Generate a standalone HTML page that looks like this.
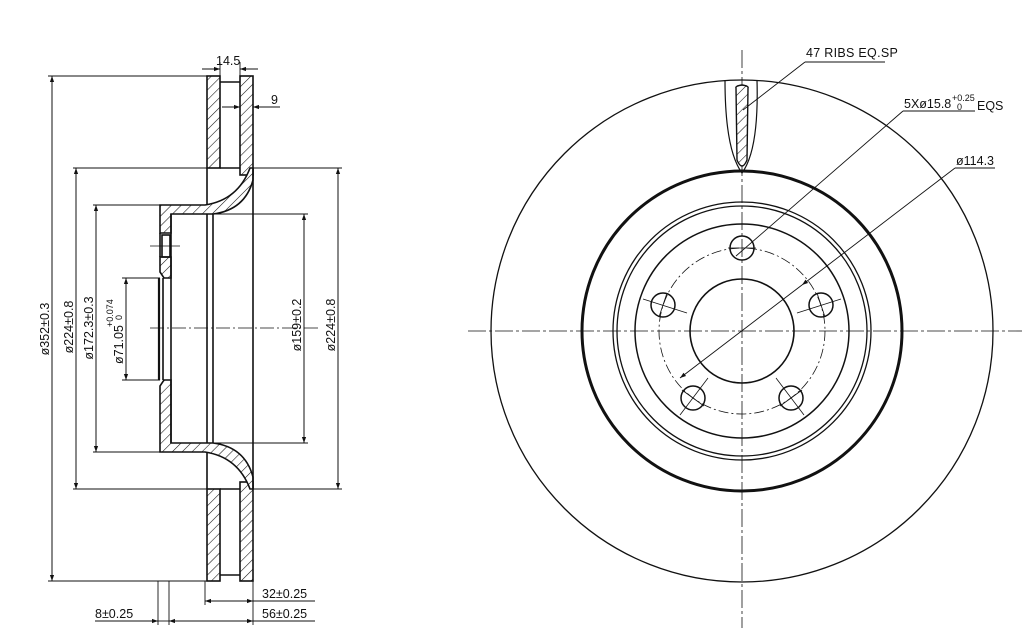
<!DOCTYPE html>
<html><head><meta charset="utf-8"><style>
html,body{margin:0;padding:0;background:#fff}
svg{display:block}
text{font-family:"Liberation Sans",sans-serif;fill:#111}
</style></head><body>
<svg width="1035" height="639" viewBox="0 0 1035 639" xmlns="http://www.w3.org/2000/svg">
<defs>
<pattern id="h" patternUnits="userSpaceOnUse" width="7" height="7" patternTransform="rotate(45)">
<rect width="7" height="7" fill="#fff"/><line x1="0" y1="0" x2="0" y2="7" stroke="#111" stroke-width="1.1"/>
</pattern>
<marker id="a" viewBox="0 0 10 10" refX="10" refY="5" markerWidth="8" markerHeight="6" orient="auto-start-reverse" markerUnits="userSpaceOnUse">
<path d="M0,1.5 L10,5 L0,8.5 Z" fill="#111"/></marker>
</defs>
<g stroke="#111" fill="none" stroke-width="1">
<g stroke-width="1.6">
<rect x="207" y="76" width="13" height="92" fill="url(#h)"/>
<rect x="240" y="76" width="13" height="99" fill="url(#h)"/>
<path d="M160,205 L205,205 Q238,200 250,168 L253,168 L253,180 Q245,210 213,214 L171,214 L171,233 L160,233 Z" fill="url(#h)"/>
<path d="M160,257 L171,257 L171,278 L164,278 L160,272 Z" fill="url(#h)"/>
<rect x="162" y="235" width="8" height="22"/>
<rect x="207" y="489" width="13" height="92" fill="url(#h)"/>
<rect x="240" y="482" width="13" height="99" fill="url(#h)"/>
<path d="M160,452 L205,452 Q238,457 250,489 L253,489 L253,477 Q245,447 213,443 L171,443 L171,380 L164,380 L160,386 Z" fill="url(#h)"/>
<line x1="220" y1="82" x2="240" y2="82"/><line x1="220" y1="168" x2="240" y2="168"/>
<line x1="220" y1="575" x2="240" y2="575"/><line x1="220" y1="489" x2="240" y2="489"/>
<line x1="207" y1="168" x2="207" y2="205"/><line x1="207" y1="452" x2="207" y2="489"/>
<line x1="171" y1="214" x2="171" y2="443"/>
<line x1="207" y1="214" x2="207" y2="443"/>
<line x1="213" y1="214" x2="213" y2="443"/>
<line x1="253" y1="168" x2="253" y2="489"/>
<line x1="159" y1="278" x2="159" y2="380" stroke-width="2.2"/>
<line x1="163" y1="278" x2="163" y2="380"/>
<line x1="160" y1="233" x2="160" y2="257"/>
</g>
<line x1="150" y1="328" x2="320" y2="328" stroke-dasharray="14,3,2,3" stroke-width="0.8"/>
<line x1="150" y1="246" x2="180" y2="246" stroke-width="0.8"/>
<line x1="48" y1="76" x2="207" y2="76" stroke-width="0.9"/>
<line x1="48" y1="581" x2="207" y2="581" stroke-width="0.9"/>
<line x1="73" y1="168" x2="207" y2="168" stroke-width="0.9"/>
<line x1="73" y1="489" x2="207" y2="489" stroke-width="0.9"/>
<line x1="93" y1="205" x2="160" y2="205" stroke-width="0.9"/>
<line x1="93" y1="452" x2="160" y2="452" stroke-width="0.9"/>
<line x1="122" y1="278" x2="160" y2="278" stroke-width="0.9"/>
<line x1="122" y1="380" x2="160" y2="380" stroke-width="0.9"/>
<line x1="253" y1="168" x2="342" y2="168" stroke-width="0.9"/>
<line x1="253" y1="489" x2="342" y2="489" stroke-width="0.9"/>
<line x1="213" y1="214" x2="308" y2="214" stroke-width="0.9"/>
<line x1="213" y1="443" x2="308" y2="443" stroke-width="0.9"/>
<line x1="52" y1="76" x2="52" y2="581" marker-start="url(#a)" marker-end="url(#a)"/>
<line x1="76" y1="168" x2="76" y2="489" marker-start="url(#a)" marker-end="url(#a)"/>
<line x1="96" y1="205" x2="96" y2="452" marker-start="url(#a)" marker-end="url(#a)"/>
<line x1="126" y1="278" x2="126" y2="380" marker-start="url(#a)" marker-end="url(#a)"/>
<line x1="304" y1="214" x2="304" y2="443" marker-start="url(#a)" marker-end="url(#a)"/>
<line x1="338" y1="168" x2="338" y2="489" marker-start="url(#a)" marker-end="url(#a)"/>
<line x1="220" y1="62" x2="220" y2="76" stroke-width="0.9"/><line x1="240" y1="62" x2="240" y2="76" stroke-width="0.9"/>
<line x1="202" y1="69" x2="220" y2="69" marker-end="url(#a)"/><line x1="258" y1="69" x2="240" y2="69" marker-end="url(#a)"/>
<line x1="222" y1="107" x2="240" y2="107" marker-end="url(#a)"/><line x1="280" y1="107" x2="253" y2="107" marker-end="url(#a)"/>
<line x1="205" y1="581" x2="205" y2="605" stroke-width="0.9"/>
<line x1="253" y1="581" x2="253" y2="625" stroke-width="0.9"/>
<line x1="158" y1="581" x2="158" y2="625" stroke-width="0.9"/>
<line x1="169" y1="581" x2="169" y2="625" stroke-width="0.9"/>
<line x1="205" y1="601" x2="253" y2="601" marker-start="url(#a)" marker-end="url(#a)"/>
<line x1="253" y1="601" x2="315" y2="601" stroke-width="0.9"/>
<line x1="169" y1="621" x2="253" y2="621" marker-start="url(#a)" marker-end="url(#a)"/>
<line x1="253" y1="621" x2="315" y2="621" stroke-width="0.9"/>
<line x1="95" y1="621" x2="158" y2="621" marker-end="url(#a)"/>
<line x1="158" y1="621" x2="169" y2="621" stroke-width="0.9"/>

<line x1="468" y1="331" x2="1022" y2="331" stroke-dasharray="18,3,3,3" stroke-width="0.8"/>
<line x1="742" y1="50" x2="742" y2="628" stroke-dasharray="18,3,3,3" stroke-width="0.8"/>
<circle cx="742" cy="331" r="251" stroke-width="1.3"/>
<circle cx="742" cy="331" r="160" stroke-width="3"/>
<circle cx="742" cy="331" r="129" stroke-width="1.3"/>
<circle cx="742" cy="331" r="125" stroke-width="1.3"/>
<circle cx="742" cy="331" r="107" stroke-width="1.5"/>
<circle cx="742" cy="331" r="83" stroke-dasharray="10,3,2,3" stroke-width="0.8"/>
<circle cx="742" cy="331" r="52" stroke-width="1.6"/>
<g stroke-width="1.5">
<circle cx="742" cy="248" r="12"/>
<circle cx="663" cy="305" r="12"/>
<circle cx="821" cy="305" r="12"/>
<circle cx="693" cy="398" r="12"/>
<circle cx="791" cy="398" r="12"/>
</g>
<g stroke-width="0.8">
<line x1="728" y1="248" x2="756" y2="248"/>
<line x1="643" y1="299" x2="687" y2="313"/><line x1="667" y1="293" x2="659" y2="317"/>
<line x1="841" y1="299" x2="797" y2="313"/><line x1="817" y1="293" x2="825" y2="317"/>
<line x1="680" y1="415" x2="708" y2="378"/><line x1="682" y1="390" x2="704" y2="406"/>
<line x1="804" y1="415" x2="776" y2="378"/><line x1="802" y1="390" x2="780" y2="406"/>
</g>
<path d="M725,80 Q725,150 742,173 Q759,150 757,80" stroke-width="1.2"/>
<path d="M736,88 Q735,86 742,85 Q749,86 748,88 L747,160 Q742,172 737,160 Z" fill="url(#h)" stroke-width="1.4"/>
<line x1="805" y1="62" x2="885" y2="62" stroke-width="0.9"/>
<line x1="805" y1="62" x2="743" y2="110" stroke-width="0.9"/>
<line x1="903" y1="111" x2="975" y2="111" stroke-width="0.9"/>
<line x1="903" y1="111" x2="736" y2="256" stroke-width="0.9"/>
<line x1="955" y1="168" x2="995" y2="168" stroke-width="0.9"/>
<line x1="955" y1="168" x2="802" y2="285" stroke-width="0.9" marker-end="url(#a)"/>
<line x1="802" y1="285" x2="680" y2="378" stroke-width="0.9" marker-end="url(#a)"/>
</g>
<g font-size="12.5">
<text x="216" y="65">14.5</text>
<text x="271" y="104">9</text>
<text x="262" y="598">32±0.25</text>
<text x="262" y="618">56±0.25</text>
<text x="95" y="618">8±0.25</text>
<g text-anchor="middle">
<text transform="translate(49,329) rotate(-90)">ø352±0.3</text>
<text transform="translate(73,327) rotate(-90)">ø224±0.8</text>
<text transform="translate(93,328) rotate(-90)">ø172.3±0.3</text>
<text transform="translate(301,325) rotate(-90)">ø159±0.2</text>
<text transform="translate(335,325) rotate(-90)">ø224±0.8</text>
</g>
<text transform="translate(123,364) rotate(-90)">ø71.05</text>
<text font-size="9" transform="translate(113,327) rotate(-90)">+0.074</text>
<text font-size="9" transform="translate(122,320) rotate(-90)">0</text>
<text x="806" y="57" letter-spacing="0.3">47  RIBS  EQ.SP</text>
<text x="904" y="108">5Xø15.8</text>
<text x="952" y="101" font-size="9">+0.25</text>
<text x="957" y="110" font-size="9">0</text>
<text x="977" y="110">EQS</text>
<text x="956" y="165">ø114.3</text>
</g>
</svg>
</body></html>
